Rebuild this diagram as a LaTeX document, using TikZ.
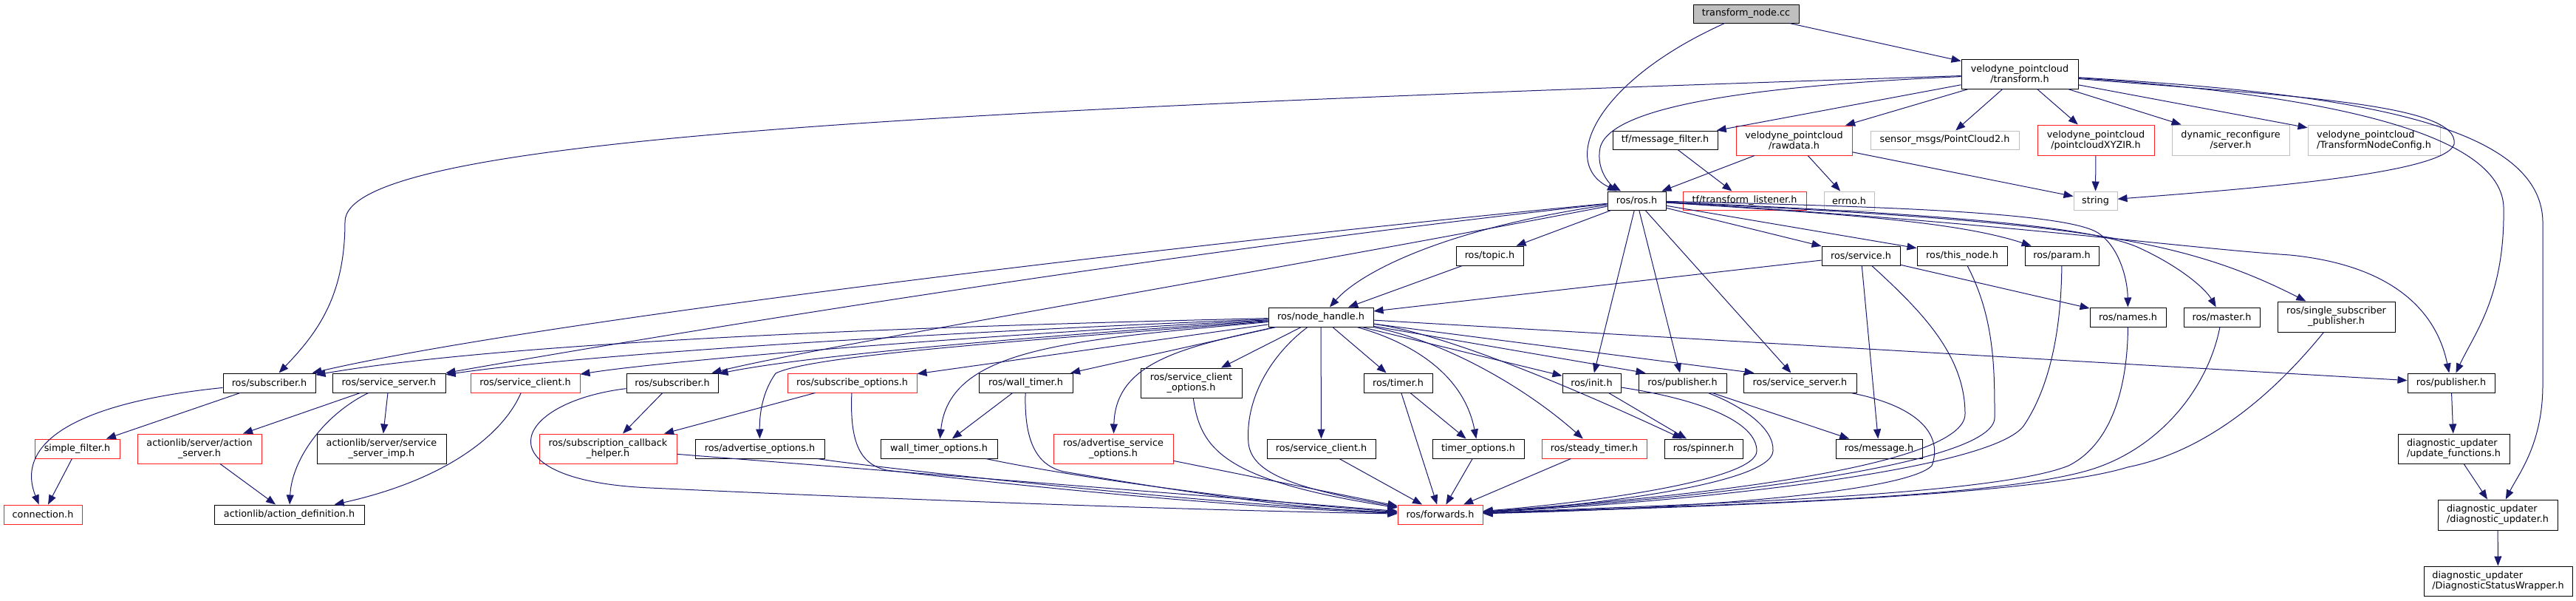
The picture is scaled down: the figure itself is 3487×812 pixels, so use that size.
\documentclass[tikz,border=0pt]{standalone}
\usepackage{fontspec}
\setmainfont{DejaVu Sans}
\usetikzlibrary{arrows.meta}
\definecolor{edgeblue}{HTML}{191970}
\definecolor{greyb}{HTML}{BFBFBF}
\definecolor{redb}{HTML}{FF2020}
\begin{document}
\begin{tikzpicture}[x=1pt,y=-1pt,
  nd/.style={draw=black, line width=1pt, fill=white, inner sep=0pt, text=black,
             font=\fontsize{12.8}{14}\selectfont, align=center, minimum height=26pt},
  rnd/.style={nd, draw=redb},
  gnd/.style={nd, draw=greyb},
  lft/.style={align=left},
  ed/.style={draw=edgeblue, line width=1pt, -{Triangle[length=13pt,width=10pt]}}]
\useasboundingbox (0,0) rectangle (3487,812);
% ---- nodes ----
\node[nd, fill=greyb, minimum width=143pt, minimum height=25pt] (root) at (2363.5,18.5) {transform\_node.cc};
\node[nd, minimum width=158pt, minimum height=40pt] (tr) at (2734,100) {velodyne\_pointcloud\\/transform.h};
\node[nd, minimum width=142pt, minimum height=25pt] (mf) at (2254,189.5) {tf/message\_filter.h};
\node[rnd, minimum width=157pt, minimum height=40pt] (raw) at (2428.5,190) {velodyne\_pointcloud\\/rawdata.h};
\node[gnd, minimum width=201pt, minimum height=25pt] (pc2) at (2632.5,189.5) {sensor\_msgs/PointCloud2.h};
\node[rnd, minimum width=158pt, minimum height=41pt] (xyz) at (2837,189.5) {velodyne\_pointcloud\\/pointcloudXYZIR.h};
\node[gnd, minimum width=159pt, minimum height=41pt] (dyn) at (3019.5,189.5) {dynamic\_reconfigure\\/server.h};
\node[gnd, lft, minimum width=179pt, minimum height=41pt] (tnc) at (3213.5,189.5) {velodyne\_pointcloud\\/TransformNodeConfig.h};
\node[nd, minimum width=79pt, minimum height=25pt] (ros) at (2215.5,271.5) {ros/ros.h};
\node[rnd, minimum width=167pt, minimum height=25pt] (tl) at (2361.5,271.5) {tf/transform\_listener.h};
\node[gnd, minimum width=68pt, minimum height=25pt] (errno) at (2503,271.5) {errno.h};
\node[gnd, minimum width=59pt, minimum height=25pt] (str) at (2836.5,271.5) {string};
\node[nd, minimum width=91pt] (topic) at (2016.5,346) {ros/topic.h};
\node[nd, minimum width=106pt] (srv) at (2519,346) {ros/service.h};
\node[nd, minimum width=122pt] (tn) at (2656,346) {ros/this\_node.h};
\node[nd, minimum width=100pt] (param) at (2791,346) {ros/param.h};
\node[nd, minimum width=142pt] (nh) at (1788,429) {ros/node\_handle.h};
\node[nd, minimum width=103pt] (names) at (2880.5,429) {ros/names.h};
\node[nd, minimum width=103pt] (master) at (3007.5,429) {ros/master.h};
\node[nd, minimum width=159pt, minimum height=41pt] (ssp) at (3162.5,428.5) {ros/single\_subscriber\\\_publisher.h};
\node[nd, minimum width=125pt] (sub1) at (364.5,518) {ros/subscriber.h};
\node[nd, minimum width=153pt] (ss1) at (526.5,518) {ros/service\_server.h};
\node[rnd, minimum width=148pt] (sc1) at (711,518) {ros/service\_client.h};
\node[nd, minimum width=124pt] (sub2) at (910,518) {ros/subscriber.h};
\node[rnd, minimum width=175pt] (so) at (1153.5,518) {ros/subscribe\_options.h};
\node[nd, minimum width=127pt] (wt) at (1388.5,518) {ros/wall\_timer.h};
\node[nd, minimum width=137pt, minimum height=40pt] (sco) at (1612.5,518) {ros/service\_client\\\_options.h};
\node[nd, minimum width=93pt] (tim) at (1892.5,518) {ros/timer.h};
\node[nd, minimum width=79pt] (init) at (2154.5,518) {ros/init.h};
\node[nd, minimum width=119pt] (pub2) at (2277.5,518) {ros/publisher.h};
\node[nd, minimum width=153pt] (ss2) at (2436.5,518) {ros/service\_server.h};
\node[nd, minimum width=118pt] (pub3) at (3318,518) {ros/publisher.h};
\node[rnd, minimum width=115pt] (sf) at (104.5,607) {simple\_filter.h};
\node[rnd, minimum width=168pt, minimum height=40pt] (as) at (270,607) {actionlib/server/action\\\_server.h};
\node[nd, minimum width=175pt, minimum height=40pt] (ssi) at (516.5,607) {actionlib/server/service\\\_server\_imp.h};
\node[rnd, minimum width=186pt, minimum height=40pt] (sch) at (823,607) {ros/subscription\_callback\\\_helper.h};
\node[nd, minimum width=175pt] (ao) at (1028.5,607) {ros/advertise\_options.h};
\node[nd, minimum width=158pt] (wto) at (1271,607) {wall\_timer\_options.h};
\node[rnd, minimum width=162pt, minimum height=40pt] (aso) at (1507,607) {ros/advertise\_service\\\_options.h};
\node[nd, minimum width=147pt] (sc2) at (1788.5,607) {ros/service\_client.h};
\node[nd, minimum width=124pt] (topt) at (2001,607) {timer\_options.h};
\node[rnd, minimum width=142pt] (st) at (2158,607) {ros/steady\_timer.h};
\node[nd, minimum width=106pt] (spin) at (2306,607) {ros/spinner.h};
\node[nd, minimum width=117pt] (msg) at (2543.5,607) {ros/message.h};
\node[nd, lft, minimum width=151pt, minimum height=40pt] (uf) at (3321.5,607) {diagnostic\_updater\\/update\_functions.h};
\node[rnd, minimum width=106pt] (conn) at (58,696) {connection.h};
\node[nd, minimum width=203pt] (ad) at (391.5,696) {actionlib/action\_definition.h};
\node[rnd, minimum width=115pt] (fwd) at (1949.5,696) {ros/forwards.h};
\node[nd, lft, minimum width=162pt, minimum height=41pt] (diag) at (3381,696.5) {diagnostic\_updater\\/diagnostic\_updater.h};
\node[nd, lft, minimum width=201pt, minimum height=40pt] (dsw) at (3381.5,786) {diagnostic\_updater\\/DiagnosticStatusWrapper.h};
% ---- edges: top ----
\draw[ed] (root) .. controls (2160,110) and (2110,220) .. (ros);
\draw[ed] (root) -- (tr);
\draw[ed] (tr) .. controls (1200,150) and (467,190) .. (467,300) .. controls (467,400) and (430,450) .. (sub1);
\draw[ed] (tr) .. controls (2400,115) and (2180,140) .. (2166,200) .. controls (2160,230) and (2180,250) .. (ros);
\draw[ed] (tr) -- (mf);
\draw[ed] (tr) -- (raw);
\draw[ed] (tr) -- (pc2);
\draw[ed] (tr) -- (xyz);
\draw[ed] (tr) -- (dyn);
\draw[ed] (tr) -- (tnc);
\draw[ed] (tr) .. controls (3100,130) and (3330,140) .. (3322,195) .. controls (3310,235) and (3050,255) .. (str);
\draw[ed] (tr) .. controls (3100,125) and (3385,170) .. (3389,280) .. controls (3391,400) and (3350,450) .. (pub3);
\draw[ed] (tr) .. controls (3150,125) and (3440,160) .. (3442,300) -- (3442,520) .. controls (3442,600) and (3410,640) .. (diag);
\draw[ed] (raw) -- (ros);
\draw[ed] (raw) -- (errno);
\draw[ed] (raw) -- (str);
\draw[ed] (mf) -- (tl);
\draw[ed] (xyz) -- (str);
% ---- edges: ros.h ----
\draw[ed] (ros) .. controls (1500,340) and (700,440) .. (sub1);
\draw[ed] (ros) .. controls (1500,350) and (800,470) .. (ss1);
\draw[ed] (ros) .. controls (1700,370) and (1100,470) .. (sub2);
\draw[ed] (ros) .. controls (1950,310) and (1840,370) .. (nh);
\draw[ed] (ros) -- (topic);
\draw[ed] (topic) -- (nh);
\draw[ed] (srv) -- (nh);
\draw[ed] (ros) -- (srv);
\draw[ed] (ros) -- (tn);
\draw[ed] (ros) .. controls (2500,290) and (2650,300) .. (param);
\draw[ed] (ros) .. controls (2600,280) and (2800,290) .. (2840,315) .. controls (2870,335) and (2880,380) .. (names);
\draw[ed] (ros) .. controls (2600,288) and (2830,305) .. (2895,335) .. controls (2950,360) and (2985,390) .. (master);
\draw[ed] (ros) .. controls (2800,300) and (2950,320) .. (ssp);
\draw[ed] (ros) .. controls (2700,300) and (2950,335) .. (3100,345) .. controls (3250,360) and (3300,430) .. (pub3);
\draw[ed] (ros) -- (init);
\draw[ed] (ros) -- (pub2);
\draw[ed] (ros) -- (ss2);
% ---- edges: service.h and right column ----
\draw[ed] (srv) -- (names);
\draw[ed] (srv) -- (msg);
\draw[ed] (srv) .. controls (2600,420) and (2660,480) .. (2660,560) .. controls (2660,630) and (2300,672) .. (fwd);
\draw[ed] (tn) .. controls (2700,430) and (2700,500) .. (2700,565) .. controls (2700,630) and (2300,675) .. (fwd);
\draw[ed] (param) .. controls (2790,460) and (2770,530) .. (2740,575) .. controls (2700,635) and (2300,678) .. (fwd);
\draw[ed] (names) .. controls (2880,520) and (2860,600) .. (2800,630) .. controls (2700,670) and (2300,682) .. (fwd);
\draw[ed] (master) .. controls (2990,520) and (2930,600) .. (2840,632) .. controls (2720,675) and (2300,684) .. (fwd);
\draw[ed] (ssp) .. controls (3080,530) and (2990,610) .. (2880,632) .. controls (2750,672) and (2300,686) .. (fwd);
\draw[ed] (ss2) .. controls (2600,550) and (2630,590) .. (2615,630) .. controls (2580,665) and (2300,688) .. (fwd);
\draw[ed] (init) .. controls (2300,540) and (2378,570) .. (2378,610) .. controls (2378,650) and (2150,680) .. (fwd);
\draw[ed] (pub2) .. controls (2360,550) and (2402,580) .. (2400,610) .. controls (2398,655) and (2150,684) .. (fwd);
\draw[ed] (pub2) -- (msg);
\draw[ed] (init) -- (spin);
% ---- edges: node_handle.h ----
\draw[ed] (nh) .. controls (1950,450) and (2120,520) .. (spin);
\draw[ed] (nh) .. controls (1950,460) and (2060,520) .. (st);
\draw[ed] (nh) .. controls (1900,460) and (1980,500) .. (topt);
\draw[ed] (nh) -- (tim);
\draw[ed] (nh) -- (sc2);
\draw[ed] (nh) -- (init);
\draw[ed] (nh) -- ([xshift=10pt]pub2.north west);
\draw[ed] (nh) -- ([xshift=15pt]ss2.north west);
\draw[ed] (nh) -- (pub3);
\draw[ed] (nh) .. controls (1300,440) and (700,460) .. (sub1);
\draw[ed] (nh) .. controls (1300,448) and (800,478) .. (ss1);
\draw[ed] (nh) .. controls (1300,455) and (900,488) .. (sc1);
\draw[ed] (nh) .. controls (1400,455) and (1100,480) .. (sub2);
\draw[ed] (nh) -- (so);
\draw[ed] (nh) -- (wt);
\draw[ed] (nh) -- (sco);
\draw[ed] (nh) .. controls (1450,460) and (1285,470) .. (wto);
\draw[ed] (nh) .. controls (1600,470) and (1510,490) .. (aso);
\draw[ed] (nh) .. controls (1400,460) and (1100,480) .. (1050,505) .. controls (1032,530) and (1028,560) .. (ao);
\draw[ed] (nh) .. controls (1720,480) and (1685,540) .. (1690,600) .. controls (1695,640) and (1750,660) .. (fwd);
% ---- edges: lower left ----
\draw[ed] (sub1) .. controls (100,545) and (20,600) .. (conn);
\draw[ed] (sub1) -- (sf);
\draw[ed] (sf) -- (conn);
\draw[ed] (ss1) -- (as);
\draw[ed] (ss1) .. controls (440,560) and (395,620) .. (ad);
\draw[ed] (ss1) -- (ssi);
\draw[ed] (as) -- (ad);
\draw[ed] (sc1) .. controls (680,590) and (600,650) .. (ad);
\draw[ed] (sub2) -- (sch);
\draw[ed] (sub2) .. controls (690,545) and (650,650) .. (880,660) .. controls (1200,675) and (1600,690) .. (fwd);
\draw[ed] (sch) -- (fwd);
\draw[ed] (so) -- (sch);
\draw[ed] (so) .. controls (1150,600) and (1165,628) .. (1200,636) .. controls (1400,660) and (1700,688) .. (fwd);
\draw[ed] (ao) .. controls (1150,628) and (1600,680) .. (fwd);
\draw[ed] (wt) -- (wto);
\draw[ed] (wt) .. controls (1386,600) and (1405,630) .. (1440,638) .. controls (1600,665) and (1750,688) .. (fwd);
\draw[ed] (wto) .. controls (1450,645) and (1700,680) .. (fwd);
\draw[ed] (aso) -- (fwd);
\draw[ed] (sco) .. controls (1625,610) and (1660,650) .. (fwd);
\draw[ed] (sc2) -- (fwd);
\draw[ed] (tim) -- (fwd);
\draw[ed] (tim) -- (topt);
\draw[ed] (topt) -- (fwd);
\draw[ed] (st) -- (fwd);
% ---- edges: diagnostics ----
\draw[ed] (pub3) -- (uf);
\draw[ed] (uf) -- (diag);
\draw[ed] (diag) -- (dsw);
\end{tikzpicture}
\end{document}
